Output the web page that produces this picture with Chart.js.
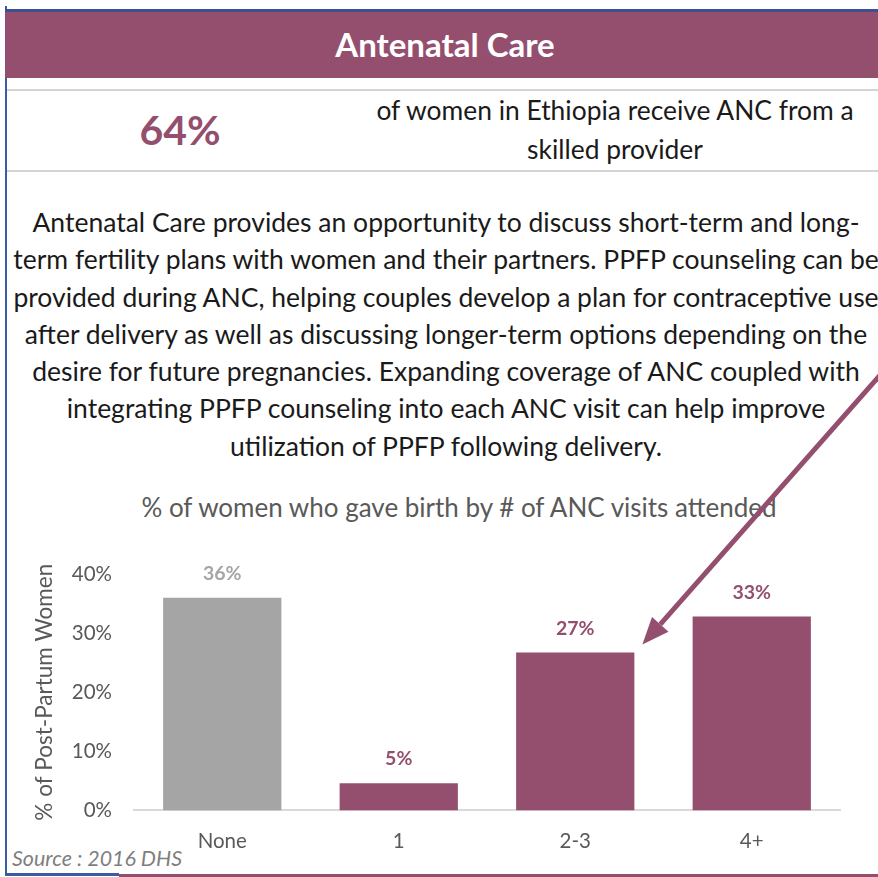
<!DOCTYPE html>
<html>
<head>
<meta charset="utf-8">
<script src="https://cdn.jsdelivr.net/npm/chart.js@4"></script>
<style>
  html, body { margin: 0; padding: 0; background: #fff; }
  #page { position: relative; width: 878px; height: 877px; overflow: hidden; font-family: Lato, sans-serif; }
  #page div { position: absolute; white-space: nowrap; }
  .vline { left: 5px; top: 6px; width: 2px; height: 870px; background: #3A5BA6; }
  .topline { left: 5px; top: 9px; width: 873px; height: 3px; background: #3D4F8F; }
  .header { left: 5px; top: 12px; width: 880px; height: 66px; line-height: 64px; background: #944F6F; color: #fff; font-weight: bold; font-size: 33px; text-align: center; }
  .rule { left: 7px; width: 871px; height: 2px; background: #D4D4D4; }
  .big { left: 80px; width: 200px; top: 106px; line-height: 48px; text-align: center; font-weight: bold; font-size: 41px; color: #944F6F; }
  .stat { left: 215px; width: 800px; top: 91px; line-height: 39px; text-align: center; font-size: 26.4px; color: #1a1a1a; }
  .para { left: 0; width: 892px; top: 204px; line-height: 37.3px; text-align: center; font-size: 26.5px; color: #1a1a1a; }
  .ctitle { left: 109px; width: 700px; top: 493px; line-height: 28px; text-align: center; font-size: 26px; color: #595959; }
  .source { left: 12px; top: 846px; line-height: 24px; font-size: 21.4px; font-style: italic; color: #7F7F7F; }
  .bblue { left: 5px; top: 873px; width: 114px; height: 3px; background: #3A5BA6; }
  .bpurple { left: 119px; top: 874px; width: 760px; height: 3px; background: #944F6F; }
  #chart { position: absolute; left: 0; top: 0; }
</style>
</head>
<body>
<div id="page">
  <div class="vline"></div>
  <div class="topline"></div>
  <div class="header">Antenatal Care</div>
  <div class="rule" style="top:89px"></div>
  <div class="big">64%</div>
  <div class="stat">of women in Ethiopia receive ANC from a<br>skilled provider</div>
  <div class="rule" style="top:170px"></div>
  <div class="para">Antenatal Care provides an opportunity to discuss short-term and long-<br>term fertility plans with women and their partners. PPFP counseling can be<br>provided during ANC, helping couples develop a plan for contraceptive use<br>after delivery as well as discussing longer-term options depending on the<br>desire for future pregnancies. Expanding coverage of ANC coupled with<br>integrating PPFP counseling into each ANC visit can help improve<br>utilization of PPFP following delivery.</div>
  <div class="ctitle">% of women who gave birth by # of ANC visits attended</div>
  <div class="source">Source : 2016 DHS</div>
  <div class="bblue"></div>
  <div class="bpurple"></div>
  <canvas id="chart" width="878" height="877"></canvas>
</div>
<script>
// ANC visits attended
const categories = ['None', '1', '2-3', '4+'];
// % of post-partum women
const shares = [36, 4.6, 26.7, 32.8];
const yTicks = [0, 10, 20, 30, 40];

const PURPLE = '#944F6F';
const GREY = '#A5A5A5';
const TEXT_GREY = '#595959';

// value labels above each bar
const barLabels = {
    id: 'barLabels',
    afterDatasetsDraw(chart) {
        const ctx = chart.ctx;
        const meta = chart.getDatasetMeta(0);
        meta.data.forEach((bar, i) => {
            ctx.save();
            ctx.font = 'bold 19.5px Lato';
            ctx.fillStyle = i === 0 ? '#A6A6A6' : PURPLE;
            ctx.textAlign = 'center';
            ctx.textBaseline = 'middle';
            ctx.fillText(Math.round(shares[i]) + '%', bar.x, bar.y - 24);
            ctx.restore();
        });
    }
};

// the arrow pointing at the 2-3 bar
const pointer = {
    id: 'pointer',
    afterDraw(chart) {
        const bar = chart.getDatasetMeta(0).data[2];
        const tipX = bar.x + bar.width / 2 + 8;
        const tipY = bar.y - 8;
        const dx = 240, dy = -272;
        const len = Math.hypot(dx, dy);
        const ux = dx / len, uy = dy / len;
        const headLen = 27, headHalf = 11;
        const baseX = tipX + ux * headLen, baseY = tipY + uy * headLen;
        const ctx = chart.ctx;
        ctx.save();
        ctx.strokeStyle = PURPLE;
        ctx.fillStyle = PURPLE;
        ctx.lineWidth = 5;
        ctx.beginPath();
        ctx.moveTo(tipX + dx, tipY + dy);
        ctx.lineTo(baseX, baseY);
        ctx.stroke();
        ctx.beginPath();
        ctx.moveTo(tipX, tipY);
        ctx.lineTo(baseX - uy * headHalf, baseY + ux * headHalf);
        ctx.lineTo(baseX + uy * headHalf, baseY - ux * headHalf);
        ctx.closePath();
        ctx.fill();
        ctx.restore();
    }
};

const ctx = document.getElementById('chart').getContext('2d');
const ancChart = new Chart(ctx, {
    type: 'bar',
    data: {
        labels: categories,
        datasets: [{
            data: shares,
            backgroundColor: categories.map((c, i) => i === 0 ? GREY : PURPLE),
            categoryPercentage: 1,
            barPercentage: 0.67,
        }],
    },
    options: {
        responsive: false,
        devicePixelRatio: 1,
        animation: false,
        layout: {
            padding: { left: 27, right: 38, top: 574, bottom: 4 },
        },
        plugins: {
            legend: { display: false },
            title: { display: false },
            tooltip: { enabled: false },
        },
        scales: {
            x: {
                grid: { display: false, drawTicks: false },
                border: { display: true, color: '#D9D9D9', width: 2 },
                ticks: { color: TEXT_GREY, font: { family: 'Lato', size: 20.5 }, padding: 19 },
            },
            y: {
                min: yTicks[0],
                max: yTicks[yTicks.length - 1],
                afterFit(scale) { scale.width = 107; },
                afterBuildTicks(scale) { scale.ticks = yTicks.map(v => ({ value: v })); },
                grid: { display: false, drawTicks: false },
                border: { display: false },
                ticks: {
                    color: TEXT_GREY,
                    font: { family: 'Lato', size: 20.5 },
                    padding: 22,
                    callback: v => v + '%',
                },
                title: {
                    display: true,
                    text: '% of Post-Partum Women',
                    color: TEXT_GREY,
                    font: { family: 'Lato', size: 22.5 },
                },
            },
        },
    },
    plugins: [barLabels, pointer],
});
</script>
</body>
</html>
